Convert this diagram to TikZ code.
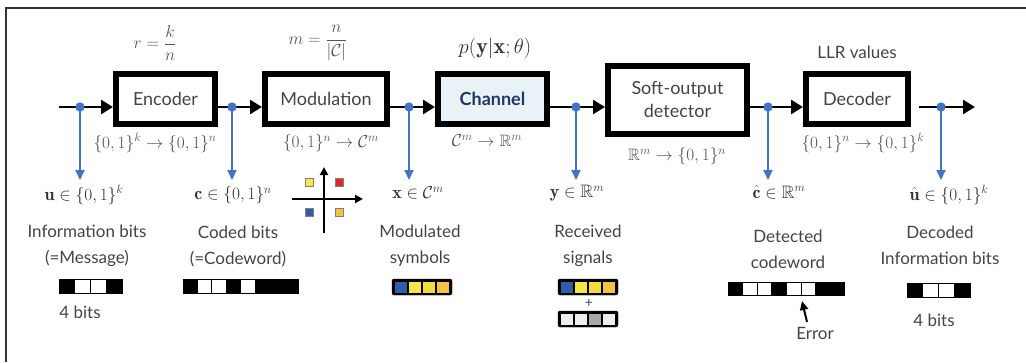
\documentclass[tikz,border=0pt]{standalone}
\usepackage{amsmath,amssymb}
\usepackage{fontspec}
\newfontfamily\labfont{Lato}
\usetikzlibrary{arrows.meta}
\definecolor{ink}{HTML}{444444}
\definecolor{mathgray}{HTML}{555555}
\definecolor{varink}{HTML}{333333}
\definecolor{linkblue}{HTML}{4472C4}
\definecolor{chanfill}{HTML}{E9F2F6}
\definecolor{chanink}{HTML}{1F3864}
\definecolor{symblue}{HTML}{2F5DA8}
\definecolor{symyel}{HTML}{F7E54A}
\definecolor{symyel2}{HTML}{F2DC3C}
\definecolor{symorg}{HTML}{F5C242}
\definecolor{symred}{HTML}{E02828}
\definecolor{noiselt}{HTML}{EEEEEE}
\definecolor{noisedk}{HTML}{A8A8A8}
\begin{document}
\begin{tikzpicture}[x=1pt,y=-1pt,
  block/.style={draw=black, line width=6pt, inner sep=0pt, minimum height=50pt,
    font=\labfont\fontsize{18}{23}\selectfont, text=ink, align=center},
  flow/.style={line width=2.6pt, -{Triangle[length=12pt,width=14pt]}},
  probe/.style={draw=linkblue, line width=2pt, -{Triangle[length=10pt,width=9pt]}},
  tapdot/.style={circle, fill=linkblue, inner sep=0pt, minimum size=9pt},
  maplabel/.style={text=mathgray, font=\fontsize{16.5}{18}\selectfont, inner sep=0pt},
  toplabel/.style={text=mathgray, font=\fontsize{16}{18}\selectfont, inner sep=0pt},
  varlabel/.style={text=varink, font=\fontsize{18}{20}\selectfont, inner sep=0pt},
  desc/.style={text=ink, font=\labfont\fontsize{17}{26}\selectfont, align=center, inner sep=0pt},
  bitcell/.style={draw=black, line width=1pt},
  symframe/.style={fill=black, rounded corners=2pt},
  qampt/.style={draw=gray, line width=0.8pt}
]
\useasboundingbox (0,0) rectangle (1026,362);

% frame
\draw[line width=1.2pt, color=varink] (6,362) -- (6,8) -- (1026,8);

% processing blocks
\node[block, minimum width=99pt]  (enc)  at (165.5,99) {Encoder};
\node[block, minimum width=122pt] (mod)  at (326,99)   {Modulation};
\node[block, minimum width=109pt, fill=chanfill, text=chanink,
      font=\labfont\bfseries\fontsize{18}{23}\selectfont] (chan) at (492.5,99) {Channel};
\node[block, minimum width=139pt, minimum height=68pt] (det) at (677.5,100) {Soft-output\\detector};
\node[block, minimum width=102pt] (dec)  at (857,99)   {Decoder};

% tap points on the signal path
\coordinate (src) at (59,107);
\node[tapdot] (d1) at (80,107) {};
\node[tapdot] (d2) at (232,107) {};
\node[tapdot] (d3) at (409,107) {};
\node[tapdot] (d4) at (576,107) {};
\node[tapdot] (d5) at (768,107) {};
\node[tapdot] (d6) at (941,107) {};
\coordinate (outA) at (919,107);
\coordinate (outB) at (975,107);

% signal path
\draw[flow] (src) -- (enc.west |- src);
\draw[flow] (enc.east |- d2) -- (mod.west |- d2);
\draw[flow] (mod.east |- d3) -- (chan.west |- d3);
\draw[flow] (chan.east |- d4) -- (det.west |- d4);
\draw[flow] (det.east |- d5) -- (dec.west |- d5);
\draw[flow] (outA) -- (outB);

% probes down to the variables
\foreach \i/\x in {1/80,2/232,3/409,4/576,5/768,6/941}{
  \coordinate (t\i) at (\x,180);
  \draw[probe] (d\i.center) -- (t\i);
  \node[tapdot] at (d\i) {};
}

% mapping labels
\node[toplabel] (rate) at (155,43) {$r=\dfrac{k}{n}$};
\node[toplabel] (mord) at (318,43) {$m=\dfrac{n}{|\mathcal{C}|}$};
\node[text=varink, font=\fontsize{22}{24}\selectfont, inner sep=0pt] (lik) at (495,48) {$p(\mathbf{y}|\mathbf{x};\theta)$};
\node[text=ink, font=\labfont\fontsize{17}{20}\selectfont, inner sep=0pt] (llr) at (857,52) {LLR values};

\node[maplabel] (m1) at (155,143) {$\{0,1\}^k\to\{0,1\}^n$};
\node[maplabel] (m2) at (331,143) {$\{0,1\}^n\to\mathcal{C}^m$};
\node[maplabel] (m3) at (487,141) {$\mathcal{C}^m\to\mathbb{R}^m$};
\node[maplabel] (m4) at (677,156) {$\mathbb{R}^m\to\{0,1\}^n$};
\node[maplabel] (m5) at (863,143) {$\{0,1\}^n\to\{0,1\}^k$};

% variables
\node[varlabel] (vu)  at (84,195)  {$\mathbf{u}\in\{0,1\}^k$};
\node[varlabel] (vc)  at (233,195) {$\mathbf{c}\in\{0,1\}^n$};
\node[varlabel] (vx)  at (418,193) {$\mathbf{x}\in\mathcal{C}^m$};
\node[varlabel] (vy)  at (577,193) {$\mathbf{y}\in\mathbb{R}^m$};
\node[varlabel] (vch) at (779,192) {$\hat{\mathbf{c}}\in\mathbb{R}^m$};
\node[varlabel] (vuh) at (949,195) {$\hat{\mathbf{u}}\in\{0,1\}^k$};

% descriptions
\node[desc] (info)  at (87,246)  {Information bits\\(=Message)};
\node[desc] (coded) at (238,246) {Coded bits\\(=Codeword)};
\node[desc] (modd)  at (420,246) {Modulated\\symbols};
\node[desc] (recv)  at (588,246) {Received\\signals};
\node[desc] (detd)  at (788,249) {Detected\\codeword};
\node[desc] (decd)  at (940,245) {Decoded\\Information bits};

% QPSK constellation
\draw[line width=2pt, -{Triangle[length=8pt,width=8pt]}] (324,233) -- (324,167);
\draw[line width=2pt, -{Triangle[length=8pt,width=8pt]}] (292,199) -- (363,199);
\draw[qampt, fill=symyel]  (305,178) rectangle ++(8,8);
\draw[qampt, fill=symred]  (335,178) rectangle ++(8,8);
\draw[qampt, fill=symblue] (305,208) rectangle ++(8,8);
\draw[qampt, fill=symorg]  (335,208) rectangle ++(8,8);

% bit sequences
\foreach \b [count=\i from 0] in {black,white,white,black}
  \draw[bitcell, fill=\b] (59+\i*15.75,279) rectangle ++(15.75,14);
\node[desc] (four1) at (80,312) {4 bits};

\foreach \b [count=\i from 0] in {black,white,white,black,white,black,black,black}
  \draw[bitcell, fill=\b] (183+\i*14.4,279) rectangle ++(14.4,14);

\foreach \b [count=\i from 0] in {black,white,white,black,white,white,black,black}
  \draw[bitcell, fill=\b] (728+\i*14.6,282) rectangle ++(14.6,13);

\foreach \b [count=\i from 0] in {black,white,white,black}
  \draw[bitcell, fill=\b] (907+\i*15.75,283) rectangle ++(15.75,14);
\node[desc] (four2) at (934,320) {4 bits};

% error marker
\node[desc] (err) at (815,333) {Error};
\coordinate (errtip) at (802,301);
\draw[line width=2pt, -{Triangle[length=9pt,width=8pt]}] (807,322) -- (errtip);

% symbol sequences
\draw[symframe] (392,279) rectangle (452,295);
\foreach \c [count=\i from 0] in {symblue,symyel,symyel2,symorg}
  \fill[\c] (394.5+\i*14.05,281.5) rectangle ++(12,11);

\draw[symframe] (558,279) rectangle (618,295);
\foreach \c [count=\i from 0] in {symblue,symyel,symyel2,symorg}
  \fill[\c] (560.5+\i*14.05,281.5) rectangle ++(12,11);
\node[text=ink, font=\labfont\fontsize{14}{16}\selectfont, inner sep=0pt] (plus) at (589,303) {+};
\draw[symframe] (558,311) rectangle (618,327);
\foreach \c [count=\i from 0] in {noiselt,noiselt,noisedk,noiselt}
  \fill[\c] (560.5+\i*14.05,313.5) rectangle ++(12,11);
\end{tikzpicture}
\end{document}
